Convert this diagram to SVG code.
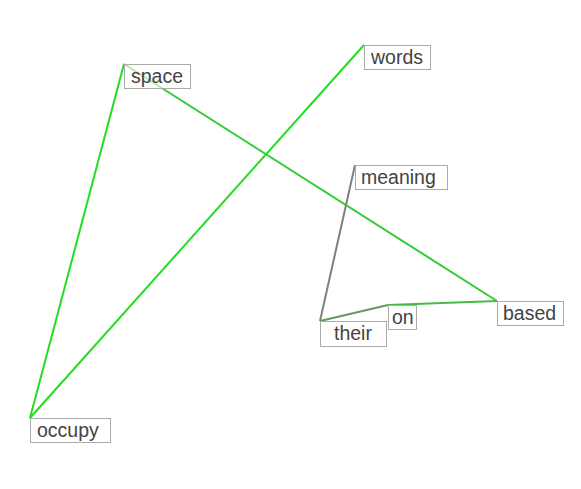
<svg xmlns="http://www.w3.org/2000/svg" width="581" height="489" viewBox="0 0 581 489">
<style>
.box{fill:#fff;fill-opacity:0.6;stroke:#aaa;stroke-width:1}
.lbl{font-family:"Liberation Sans",Arial,sans-serif;font-size:19.5px;fill:#444}
.e{fill:none;stroke-width:2}
</style>
<rect width="581" height="489" fill="#fff"/>
<g id="connectors">
<line class="e" x1="30" y1="418" x2="124" y2="64" stroke="#22dd22"/>
<line class="e" x1="30" y1="418" x2="364" y2="45" stroke="#22dd22"/>
<line class="e" x1="124" y1="64" x2="497" y2="301" stroke="#33cc33"/>
<line class="e" x1="320" y1="321" x2="355" y2="165" stroke="#808080"/>
<line class="e" x1="320" y1="321" x2="388" y2="305" stroke="#669966"/>
<line class="e" x1="388" y1="305" x2="497" y2="301" stroke="#44bb44"/>
</g>
<g id="space"><rect class="box" x="124.5" y="64.5" width="66" height="24"/><text class="lbl" x="131" y="83">space</text></g>
<g id="words"><rect class="box" x="364.5" y="45.5" width="66" height="24"/><text class="lbl" x="371" y="64">words</text></g>
<g id="meaning"><rect class="box" x="355.5" y="165.5" width="92" height="24"/><text class="lbl" x="361" y="184">meaning</text></g>
<g id="their"><rect class="box" x="320.5" y="321.5" width="66" height="25"/><text class="lbl" x="334" y="340">their</text></g>
<g id="on"><rect class="box" x="388.5" y="305.5" width="28" height="24"/><text class="lbl" x="392" y="324">on</text></g>
<g id="based"><rect class="box" x="497.5" y="301.5" width="66" height="24"/><text class="lbl" x="503" y="320">based</text></g>
<g id="occupy"><rect class="box" x="30.5" y="418.5" width="80" height="24"/><text class="lbl" x="37" y="437">occupy</text></g>
</svg>
